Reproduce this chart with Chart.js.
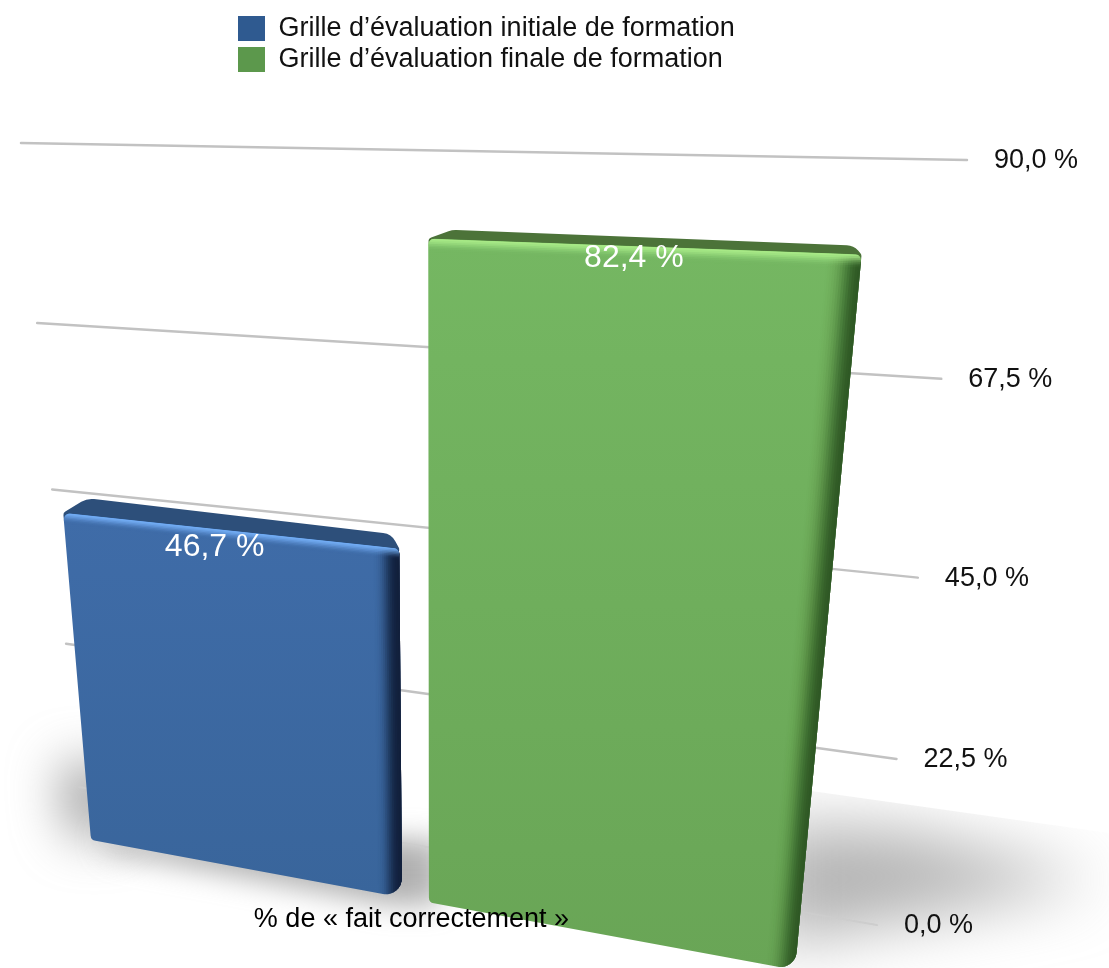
<!DOCTYPE html>
<html>
<head>
<meta charset="utf-8">
<script src="https://cdn.jsdelivr.net/npm/chart.js@4"></script>
<style>
  html, body { margin: 0; background: #fff; }
  #wrap { width: 1109px; height: 968px; overflow: hidden; }
</style>
</head>
<body>
<div id="wrap"><canvas id="chart" width="1109" height="968"></canvas></div>
<script>
const categories = ['% de « fait correctement »'];
const seriesNames = ['Grille d’évaluation initiale de formation', 'Grille d’évaluation finale de formation'];
const initialValues = [46.7];
const finalValues = [82.4];
const tickValues = [0, 22.5, 45, 67.5, 90];

const FONT = '"Liberation Sans", Arial, sans-serif';
const fmt = v => v.toFixed(1).replace('.', ',') + ' %';

// the two planes of the 3d look: bl, br, tr, tl on screen
const gridQuad = [[79, 787], [877, 925], [967, 160], [21, 143]];
const barQuad = [[91, 840], [795, 970], [869, 175], [33, 158]];
const BAR_PCT = 0.926;
const INSET = (1 - BAR_PCT) / 4;

const looks = [
  { top: '#3F6CA8', bottom: '#39659B', lid: '#2D4F7A', shine: '120,180,250', side: '18,32,60', sideAlpha: 0.72, labelDx: -10, labelDy: 17 },
  { top: '#75B762', bottom: '#69A556', lid: '#4C7339', shine: '175,240,140', side: '45,85,35', sideAlpha: 0.5, labelDx: -1, labelDy: 12 },
];

function homography(q) {
  const [[x0, y0], [x1, y1], [x2, y2], [x3, y3]] = q;
  const dx1 = x1 - x2, dx2 = x3 - x2, sx = x0 - x1 + x2 - x3;
  const dy1 = y1 - y2, dy2 = y3 - y2, sy = y0 - y1 + y2 - y3;
  const den = dx1 * dy2 - dx2 * dy1;
  const g = (sx * dy2 - dx2 * sy) / den;
  const h = (dx1 * sy - sx * dy1) / den;
  const a = x1 - x0 + g * x1, b = x3 - x0 + h * x3;
  const d = y1 - y0 + g * y1, e = y3 - y0 + h * y3;
  return (u, v) => {
    const w = g * u + h * v + 1;
    return [(a * u + b * v + x0) / w, (d * u + e * v + y0) / w];
  };
}
const gridAt = homography(gridQuad);
const barAt = homography(barQuad);

function roundedPath(ctx, pts, radii) {
  ctx.beginPath();
  const n = pts.length;
  const last = pts[n - 1], first = pts[0];
  ctx.moveTo((last[0] + first[0]) / 2, (last[1] + first[1]) / 2);
  for (let i = 0; i < n; i++) {
    const next = pts[(i + 1) % n];
    ctx.arcTo(pts[i][0], pts[i][1], next[0], next[1], radii[i]);
  }
  ctx.closePath();
}

function poly(ctx, pts) {
  ctx.beginPath();
  pts.forEach((p, i) => (i ? ctx.lineTo(p[0], p[1]) : ctx.moveTo(p[0], p[1])));
  ctx.closePath();
  ctx.fill();
}

function drawShadows(ctx) {
  ctx.save();
  ctx.beginPath();
  ctx.rect(0, 700, 1109, 268);
  ctx.clip();
  // left blob
  ctx.filter = 'blur(26px)';
  ctx.fillStyle = 'rgba(120,120,120,0.75)';
  poly(ctx, [[60, 765], [120, 765], [120, 835], [70, 835]]);
  // under the blue bar and between the bars
  ctx.filter = 'blur(14px)';
  ctx.fillStyle = 'rgba(125,125,125,0.6)';
  poly(ctx, [[100, 835], [440, 840], [440, 905], [390, 905], [110, 852]]);
  ctx.restore();

  // right side, cut by the far edge of the floor
  ctx.save();
  ctx.beginPath();
  ctx.moveTo(790, 788);
  ctx.lineTo(1109, 833);
  ctx.lineTo(1109, 968);
  ctx.lineTo(760, 968);
  ctx.closePath();
  ctx.clip();
  ctx.filter = 'blur(32px)';
  ctx.fillStyle = 'rgba(150,150,150,0.72)';
  poly(ctx, [[770, 825], [900, 830], [1100, 880], [900, 920], [770, 945]]);
  ctx.restore();
}

const plot3d = {
  id: 'plot3d',
  beforeDatasetsDraw(chart) {
    const { ctx, scales: { y } } = chart;
    drawShadows(ctx);
    ctx.save();
    ctx.lineCap = 'round';
    ctx.font = '27px ' + FONT;
    ctx.textAlign = 'left';
    ctx.textBaseline = 'middle';
    tickValues.forEach(t => {
      const v = (y.bottom - y.getPixelForValue(t)) / y.height;
      const a = gridAt(0, v), b = gridAt(1, v);
      ctx.strokeStyle = t === 0 ? '#CDCDCD' : '#C2C2C2';
      ctx.lineWidth = t === 0 ? 2 : 2.5;
      ctx.beginPath();
      ctx.moveTo(a[0], a[1]);
      ctx.lineTo(b[0], b[1]);
      ctx.stroke();
      ctx.fillStyle = '#111';
      ctx.fillText(fmt(t), b[0] + 27, b[1] + 0.5);
    });
    ctx.restore();
  },
  beforeDatasetDraw(chart, args) {
    const { ctx, chartArea: area, scales: { y } } = chart;
    const bar = args.meta.data[0];
    const look = looks[args.index];
    const toU = px => ((px - area.left) / area.width - INSET) / (1 - 2 * INSET);
    const u0 = toU(bar.x - bar.width / 2), u1 = toU(bar.x + bar.width / 2);
    const vTop = (y.bottom - bar.y) / y.height;
    const A = barAt(u0, 0), B = barAt(u1, 0), C = barAt(u1, vTop), D = barAt(u0, vTop);

    ctx.save();
    // lid of the bar
    const up = 22 * (1 - vTop * 0.65);
    ctx.fillStyle = look.lid;
    roundedPath(ctx, [
      [D[0] + 1, D[1] + 10], D, [D[0] + 24, D[1] - up], [C[0] - 8, C[1] - up], C, [C[0] - 1, C[1] + 10],
    ], [0, 4, 20, 16, 4, 0]);
    ctx.fill();

    // front face
    const face = ctx.createLinearGradient(0, Math.min(C[1], D[1]), 0, Math.max(A[1], B[1]));
    face.addColorStop(0, look.top);
    face.addColorStop(1, look.bottom);
    ctx.fillStyle = face;
    roundedPath(ctx, [A, B, C, D], [6, 16, 6, 6]);
    ctx.fill();
    ctx.clip();

    // darkening towards the side
    const slices = 14, du = 0.036;
    for (let i = 0; i < slices; i++) {
      const t = (i + 1) / slices;
      ctx.fillStyle = 'rgba(' + look.side + ',' + (look.sideAlpha * t * t).toFixed(3) + ')';
      const a = u1 - du * (1 - i / slices), b = u1 + 0.01;
      poly(ctx, [barAt(a, 0), barAt(b, 0), barAt(b, vTop), barAt(a, vTop)]);
    }
    // shine along the top edge
    const dv = 0.016, steps = 8;
    for (let i = 0; i < steps; i++) {
      const t = i / steps;
      ctx.fillStyle = 'rgba(' + look.shine + ',' + (0.6 * (1 - t) * (1 - t)).toFixed(3) + ')';
      const v = vTop - dv * (t + 1 / steps);
      poly(ctx, [barAt(u0, v), barAt(u1, v), barAt(u1, vTop), barAt(u0, vTop)]);
    }
    ctx.restore();
    return false;
  },
  afterDatasetsDraw(chart) {
    const { ctx, chartArea: area, scales: { x, y } } = chart;
    const toU = px => ((px - area.left) / area.width - INSET) / (1 - 2 * INSET);
    ctx.save();
    ctx.textAlign = 'center';
    ctx.textBaseline = 'middle';
    ctx.font = '32px ' + FONT;
    ctx.fillStyle = '#fff';
    chart.data.datasets.forEach((ds, i) => {
      const bar = chart.getDatasetMeta(i).data[0];
      const p = barAt(toU(bar.x), (y.bottom - bar.y) / y.height);
      ctx.fillText(fmt(ds.data[0]), p[0] + looks[i].labelDx, p[1] + looks[i].labelDy);
    });
    const p = barAt(toU(x.getPixelForValue(0)), 0);
    ctx.font = '27px ' + FONT;
    ctx.fillStyle = '#000';
    ctx.fillText(categories[0], p[0] - 4, p[1] + 20);
    ctx.restore();
  },
};

new Chart(document.getElementById('chart'), {
  type: 'bar',
  plugins: [plot3d],
  data: {
    labels: categories,
    datasets: [
      { label: seriesNames[0], data: initialValues, backgroundColor: '#2F5A90' },
      { label: seriesNames[1], data: finalValues, backgroundColor: '#5C984C' },
    ],
  },
  options: {
    responsive: false,
    animation: false,
    layout: { padding: { left: 234, top: 11 } },
    datasets: { bar: { categoryPercentage: 1, barPercentage: BAR_PCT } },
    plugins: {
      tooltip: { enabled: false },
      legend: {
        position: 'top',
        align: 'start',
        labels: {
          boxWidth: 27,
          boxHeight: 25,
          padding: 4,
          color: '#111',
          font: { family: FONT, size: 27 },
        },
      },
    },
    scales: {
      x: { display: false },
      y: { display: false, min: 0, max: 90, ticks: { stepSize: 22.5 } },
    },
  },
});
</script>
</body>
</html>
